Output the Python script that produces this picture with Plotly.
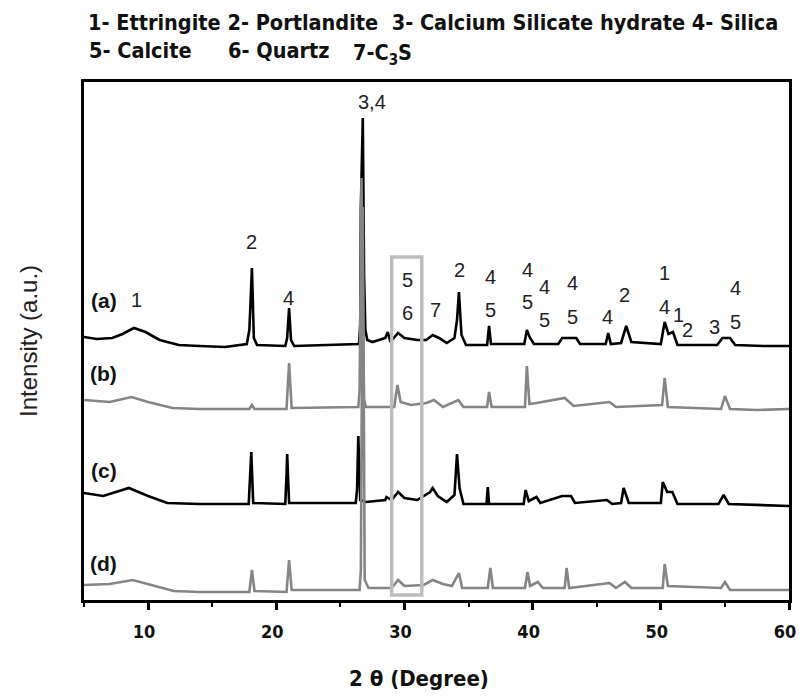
import plotly.graph_objects as go

# 2-theta (degree) / intensity (a.u.), one pair of lists per pattern
a_theta = [5.0, 6.0, 7.2, 8.0, 8.9, 9.8, 10.9, 12.4, 14.0, 16.0, 17.7, 17.9, 18.0, 18.1, 18.25, 18.5,
           20.7, 20.85, 21.0, 21.15, 21.4, 24.0, 26.45, 26.55, 26.6, 26.75, 26.85, 26.95, 27.1, 27.5,
           28.5, 28.7, 28.9, 29.5, 30.0, 31.0, 31.7, 32.2, 32.7, 33.3, 33.9, 34.1, 34.25, 34.45, 34.8,
           36.45, 36.6, 36.75, 39.35, 39.55, 39.8, 40.1, 42.0, 42.3, 43.4, 43.7, 45.7, 45.9, 46.1,
           46.9, 47.3, 47.7, 50.0, 50.3, 50.6, 50.95, 51.3, 54.4, 54.8, 55.4, 55.8, 58.0, 60.0]
a_int = [263, 261, 262, 266, 272, 268, 260, 255, 254, 253, 256, 270, 300, 332, 262, 255,
         254, 262, 292, 260, 254, 255, 256, 275, 393, 482, 323, 270, 260, 258,
         262, 268, 258, 267, 262, 260, 260, 265, 262, 257, 262, 280, 308, 265, 255,
         255, 274, 256, 256, 270, 262, 256, 256, 262, 262, 256, 256, 267, 256,
         257, 274, 258, 256, 278, 266, 268, 255, 255, 262, 262, 255, 254, 254]

b_theta = [5.0, 7.0, 8.7, 10.0, 11.9, 14.0, 17.9, 18.1, 18.3, 20.8, 21.0, 21.2, 26.4, 26.5, 26.65,
           26.85, 27.0, 29.2, 29.45, 29.7, 30.5, 31.7, 32.3, 33.0, 34.2, 34.6, 36.45, 36.6, 36.8,
           39.4, 39.55, 39.75, 40.3, 42.5, 43.2, 46.0, 46.5, 50.1, 50.3, 50.55, 54.7, 55.0, 55.4,
           57.5, 60.0]
b_int = [200, 198, 203, 198, 192, 191, 191, 195, 191, 191, 237, 192, 193, 210, 422,
         200, 193, 193, 215, 198, 195, 197, 200, 193, 200, 193, 193, 208, 193,
         193, 234, 196, 197, 202, 194, 198, 193, 195, 222, 193, 191, 204, 191,
         190, 191]

c_theta = [5.0, 6.5, 8.5, 10.0, 11.5, 14.0, 17.85, 17.95, 18.05, 18.2, 20.7, 20.8, 20.85, 21.0,
           26.2, 26.3, 26.4, 26.55, 27.0, 28.5, 28.6, 29.0, 29.5, 30.0, 31.0, 32.0, 32.2, 32.6,
           33.3, 33.9, 34.1, 34.3, 34.6, 36.4, 36.5, 36.6, 39.3, 39.45, 39.7, 40.3, 40.6, 42.3,
           43.0, 43.3, 45.8, 46.2, 46.9, 47.1, 47.5, 50.0, 50.15, 50.5, 50.9, 51.3, 54.5, 54.9,
           55.3, 60.0]
c_int = [107, 104, 112, 104, 97, 96, 96, 125, 148, 97, 96, 125, 146, 97,
         97, 110, 164, 100, 98, 100, 103, 100, 108, 102, 100, 108, 112, 104,
         98, 105, 146, 112, 96, 96, 113, 96, 96, 110, 99, 103, 97, 104,
         104, 97, 100, 96, 97, 112, 97, 97, 118, 108, 108, 96, 96, 105,
         96, 94]

d_theta = [5.0, 7.0, 8.8, 10.5, 12.0, 14.0, 17.9, 18.1, 18.3, 20.8, 21.0, 21.2, 26.5, 26.6, 26.75,
           26.9, 27.2, 29.0, 29.5, 30.0, 31.5, 32.2, 33.0, 33.7, 34.25, 34.5, 36.5, 36.7, 36.9,
           39.4, 39.6, 39.8, 40.4, 40.8, 42.5, 42.65, 42.85, 46.0, 46.5, 47.2, 47.7, 50.15, 50.3,
           50.55, 54.7, 55.0, 55.4, 60.0]
d_int = [15, 16, 20, 14, 9, 8, 8, 30, 9, 8, 40, 10, 10, 30, 393,
         20, 12, 12, 20, 14, 15, 20, 16, 14, 27, 12, 12, 32, 12,
         12, 28, 14, 18, 12, 12, 32, 12, 17, 12, 18, 12, 12, 36,
         14, 12, 18, 10, 10]

# phase numbers written above the peaks
peak_text = ["1", "2", "4", "3,4", "5", "6", "7", "2", "4", "5", "4", "5", "4", "5", "4", "5",
             "4", "2", "1", "4", "1", "2", "3", "4", "5"]
peak_theta = [9.1, 18.1, 20.95, 27.5, 30.2, 30.2, 32.4, 34.3, 36.7, 36.7, 39.6, 39.6, 40.95, 40.95,
              43.1, 43.1, 45.85, 47.2, 50.3, 50.3, 51.4, 52.1, 54.2, 55.8, 55.8]
peak_level = [300, 358, 302, 498, 320, 287, 290, 330, 323, 290, 330, 298, 313, 280,
              317, 283, 283, 305, 327, 293, 285, 270, 273, 312, 278]

sample_names = ["(a)", "(b)", "(c)", "(d)"]
sample_level = [300, 227, 130, 37]

LEGEND_LINE1 = "1- Ettringite 2- Portlandite \u00a03- Calcium Silicate hydrate 4- Silica"
LEGEND_LINE2 = ["5- Calcite", "6- Quartz", "7-C<sub>3</sub>S"]
LEGEND_LINE2_X = [3, 142, 267]  # px from the left edge of the frame
LEGEND_LINE2_DY = [0, 0, -4]    # the subscript makes the last box taller

NARROW = "Liberation Sans Narrow, DejaVu Sans Condensed, Arial Narrow, sans-serif"
ARIAL = "Arial, Liberation Sans, sans-serif"
BLACK = "#000000"
GREY = "#858585"

fig = go.Figure()
for th, it, col in [(a_theta, a_int, BLACK), (c_theta, c_int, BLACK),
                    (b_theta, b_int, GREY), (d_theta, d_int, GREY)]:
    fig.add_trace(go.Scatter(x=th, y=it, mode="lines", line=dict(color=col, width=2.6),
                             showlegend=False, hoverinfo="skip"))

# highlight box round the 5/6 reflections
fig.add_shape(type="rect", x0=29.0, x1=31.35, y0=5, y1=343,
              line=dict(color="#bdbdbd", width=3.5), fillcolor="rgba(0,0,0,0)")

for t, x, y in zip(peak_text, peak_theta, peak_level):
    fig.add_annotation(x=x, y=y, text=t, showarrow=False, xanchor="center", yanchor="middle",
                       font=dict(family=ARIAL, size=20, color="#222222"))

for t, y in zip(sample_names, sample_level):
    fig.add_annotation(x=6.55, y=y, text=t, showarrow=False, xanchor="center", yanchor="middle",
                       font=dict(family=ARIAL, size=21, color="#111111", weight="bold"))

legend_font = dict(family=NARROW, size=21.5, color="#111111", weight="bold")
fig.add_annotation(xref="paper", yref="paper", x=0, y=1, xanchor="left", yanchor="middle",
                   xshift=2, yshift=82 - 22, text=LEGEND_LINE1, showarrow=False, font=legend_font)
for t, dx, dy in zip(LEGEND_LINE2, LEGEND_LINE2_X, LEGEND_LINE2_DY):
    fig.add_annotation(xref="paper", yref="paper", x=0, y=1, xanchor="left", yanchor="middle",
                       xshift=dx, yshift=82 - 50 + dy, text=t, showarrow=False, font=legend_font)

fig.add_annotation(xref="paper", yref="paper", x=0, y=0.5, xanchor="center", yanchor="middle",
                   xshift=-56, textangle=-90, text="Intensity (a.u.)", showarrow=False,
                   font=dict(family=ARIAL, size=24, color="#222222"))
fig.add_annotation(xref="paper", yref="paper", x=0.475, y=0, xanchor="center", yanchor="middle",
                   yshift=-78, text="2 \u03b8 (Degree)", showarrow=False,
                   font=dict(family=NARROW, size=22, color="#111111", weight="bold"))

fig.update_xaxes(range=[5, 60], tickvals=[10, 20, 30, 40, 50, 60], ticks="outside", ticklen=7,
                 tickwidth=3, tickcolor=BLACK, showline=True, linewidth=3, linecolor=BLACK,
                 mirror=True, showgrid=False, zeroline=False, ticklabelstandoff=6,
                 ticklabelshift=-4, ticklabeloverflow="allow", automargin=False,
                 tickfont=dict(family=NARROW, size=18, color="#111111", weight="bold"),
                 minor=dict(tickvals=[5, 15, 25, 35, 45, 55], ticks="outside", ticklen=4,
                            tickwidth=2, tickcolor=BLACK))
fig.update_yaxes(range=[0, 518], showticklabels=False, ticks="", showline=True, linewidth=3,
                 linecolor=BLACK, mirror=True, showgrid=False, zeroline=False, automargin=False)

# the page adds an 8px body margin, so the figure is kept inside the 804x700 window
fig.update_layout(width=796, height=684, plot_bgcolor="white", paper_bgcolor="white",
                  margin=dict(l=76, r=15, t=74, b=92), showlegend=False)

fig.write_html("out.html")
